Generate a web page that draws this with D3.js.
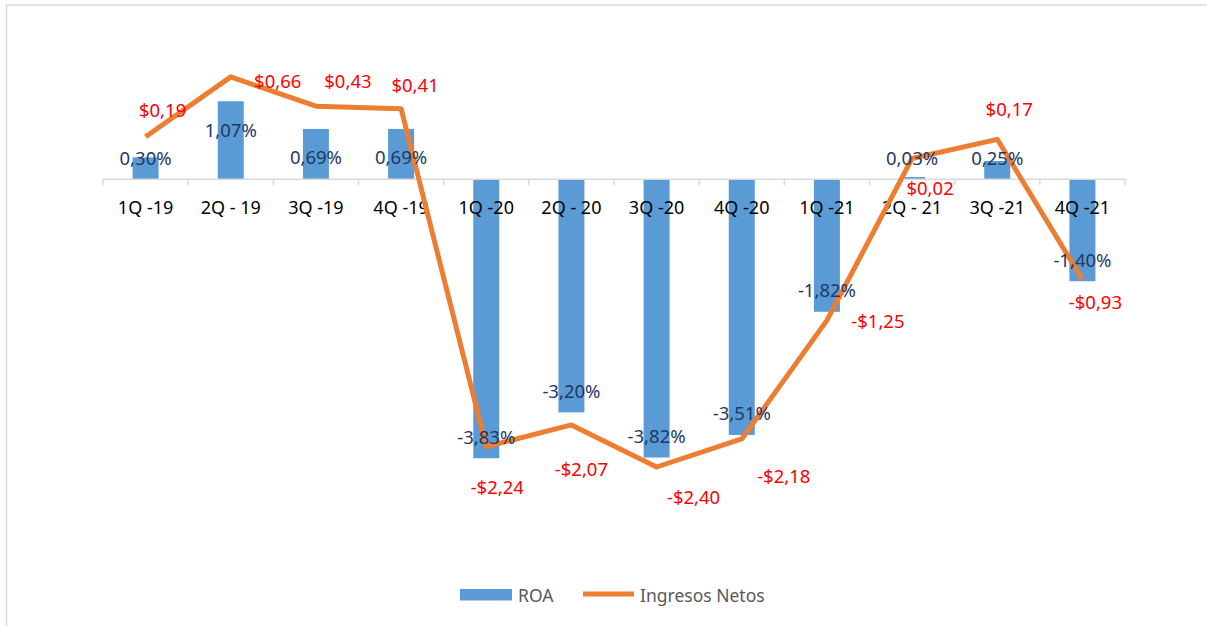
<!DOCTYPE html>
<html lang="es">
<head>
    <meta charset="UTF-8">
    <title>ROA e Ingresos Netos</title>
    <script src="https://cdnjs.cloudflare.com/ajax/libs/d3/7.8.5/d3.min.js"></script>
    <style>
        html, body { margin: 0; padding: 0; background: #fff; }
        svg { display: block; font-family: "Noto Sans", sans-serif; }
    </style>
</head>
<body>
    <svg id="chart" width="1207" height="626"></svg>

    <script>
        // Data
        const quarters = ["1Q -19", "2Q - 19", "3Q -19", "4Q -19", "1Q -20", "2Q - 20",
                          "3Q -20", "4Q -20", "1Q -21", "2Q - 21", "3Q -21", "4Q -21"];
        const roa = [0.30, 1.07, 0.69, 0.69, -3.83, -3.20, -3.82, -3.51, -1.82, 0.03, 0.25, -1.40];
        const ingresos = [0.19, 0.66, 0.43, 0.41, -2.24, -2.07, -2.40, -2.18, -1.25, 0.02, 0.17, -0.93];

        // manual label nudges (px) for the red line labels, as in the original
        const lineLabelNudge = [[17, -27], [47, 4], [32, -26], [14, -24], [11, 40], [10, 44],
                                [37, 29], [42, 37], [51, 0], [18, 29], [12, -31], [13, 22]];

        const fmt = (v, d) => v.toFixed(d).replace(".", ",");
        const roaLabel = v => fmt(v, 2) + "%";
        const ingLabel = v => (v < 0 ? "-$" : "$") + fmt(Math.abs(v), 2);

        const svg = d3.select("#chart");

        // chart border (only top/left visible in the picture)
        svg.append("rect")
            .attr("x", 6.5).attr("y", 5)
            .attr("width", 1400).attr("height", 800)
            .attr("fill", "none")
            .attr("stroke", "#D9D9D9")
            .attr("stroke-width", 1.5);

        const plotTop = 33.5, plotBottom = 543.5;

        const x = d3.scaleBand()
            .domain(quarters)
            .range([103, 1125])
            .paddingInner(0).paddingOuter(0);

        const yBar = d3.scaleLinear().domain([-5, 2]).range([plotBottom, plotTop]);
        const yLine = d3.scaleLinear().domain([-3, 1]).range([plotBottom, plotTop]);

        const barW = 26;
        const cx = d => x(d) + x.bandwidth() / 2;

        // bars
        svg.append("g")
            .selectAll("rect")
            .data(roa)
            .join("rect")
            .attr("x", (d, i) => cx(quarters[i]) - barW / 2)
            .attr("y", d => yBar(Math.max(d, 0)))
            .attr("width", barW)
            .attr("height", d => Math.abs(yBar(d) - yBar(0)))
            .attr("fill", "#5B9BD5");

        // category axis at zero
        const y0 = yBar(0);
        const axis = svg.append("g").attr("transform", `translate(0,${y0})`);
        axis.append("line")
            .attr("x1", 103).attr("x2", 1125)
            .attr("stroke", "#D9D9D9").attr("stroke-width", 1.5);
        const ticks = quarters.map(q => x(q)).concat([1125]);
        axis.selectAll("line.tick")
            .data(ticks)
            .join("line")
            .attr("class", "tick")
            .attr("x1", d => d).attr("x2", d => d)
            .attr("y1", 0).attr("y2", 6)
            .attr("stroke", "#D9D9D9").attr("stroke-width", 1.5);
        axis.selectAll("text")
            .data(quarters)
            .join("text")
            .attr("x", d => cx(d))
            .attr("y", 28)
            .attr("text-anchor", "middle")
            .attr("dominant-baseline", "central")
            .attr("font-size", 18)
            .attr("fill", "#000")
            .text(d => d);

        // line
        const line = d3.line()
            .x((d, i) => cx(quarters[i]))
            .y(d => yLine(d));

        svg.append("path")
            .datum(ingresos)
            .attr("d", line)
            .attr("fill", "none")
            .attr("stroke", "#ED7D31")
            .attr("stroke-width", 5)
            .attr("stroke-linejoin", "round");

        // ROA labels (inside end)
        svg.append("g")
            .selectAll("text")
            .data(roa)
            .join("text")
            .attr("x", (d, i) => cx(quarters[i]))
            .attr("y", d => d >= 0 ? Math.min(yBar(d) + 28, y0 - 22) : yBar(d) - 22)
            .attr("text-anchor", "middle")
            .attr("dominant-baseline", "central")
            .attr("font-size", 18.5)
            .attr("fill", "#1F3864")
            .text(roaLabel);

        // Ingresos labels
        svg.append("g")
            .selectAll("text")
            .data(ingresos)
            .join("text")
            .attr("x", (d, i) => cx(quarters[i]) + lineLabelNudge[i][0])
            .attr("y", (d, i) => yLine(d) + lineLabelNudge[i][1])
            .attr("text-anchor", "middle")
            .attr("dominant-baseline", "central")
            .attr("font-size", 18.5)
            .attr("fill", "#FF0000")
            .text(ingLabel);

        // legend
        const legend = svg.append("g");
        legend.append("rect")
            .attr("x", 460).attr("y", 589)
            .attr("width", 52).attr("height", 11.5)
            .attr("fill", "#5B9BD5");
        legend.append("text")
            .attr("x", 518).attr("y", 595)
            .attr("dominant-baseline", "central")
            .attr("font-size", 17.5)
            .attr("fill", "#595959")
            .text("ROA");
        legend.append("line")
            .attr("x1", 583).attr("x2", 634)
            .attr("y1", 594).attr("y2", 594)
            .attr("stroke", "#ED7D31")
            .attr("stroke-width", 5);
        legend.append("text")
            .attr("x", 640).attr("y", 595)
            .attr("dominant-baseline", "central")
            .attr("font-size", 17.5)
            .attr("fill", "#595959")
            .text("Ingresos Netos");
    </script>
</body>
</html>
